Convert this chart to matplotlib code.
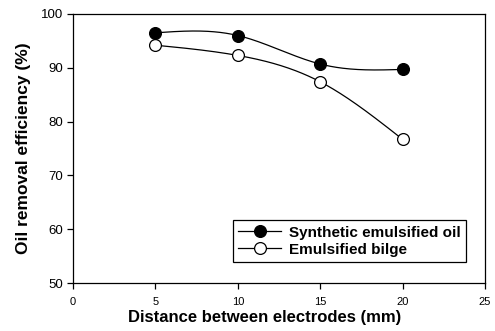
import numpy as np
import matplotlib
matplotlib.use('Agg')
import matplotlib.pyplot as plt

distance = [5, 10, 15, 20]
synthetic = [96.5, 96.0, 90.7, 89.7]
bilge = [94.2, 92.3, 87.4, 76.7]
x_ticks = [0, 5, 10, 15, 20, 25]
y_ticks = [50, 60, 70, 80, 90, 100]


def natural_spline(x, y, n=200):
    # natural cubic spline through the points, for a smooth line only
    x = np.asarray(x, float)
    y = np.asarray(y, float)
    k = len(x)
    h = np.diff(x)
    A = np.zeros((k, k))
    b = np.zeros(k)
    A[0, 0] = A[-1, -1] = 1
    for i in range(1, k - 1):
        A[i, i - 1] = h[i - 1]
        A[i, i] = 2 * (h[i - 1] + h[i])
        A[i, i + 1] = h[i]
        b[i] = 6 * ((y[i + 1] - y[i]) / h[i] - (y[i] - y[i - 1]) / h[i - 1])
    m = np.linalg.solve(A, b)
    xs = np.linspace(x[0], x[-1], n)
    idx = np.clip(np.searchsorted(x, xs) - 1, 0, k - 2)
    t0 = xs - x[idx]
    t1 = x[idx + 1] - xs
    hi = h[idx]
    ys = (m[idx] * t1 ** 3 + m[idx + 1] * t0 ** 3) / (6 * hi) \
        + (y[idx] / hi - m[idx] * hi / 6) * t1 \
        + (y[idx + 1] / hi - m[idx + 1] * hi / 6) * t0
    return xs, ys


plt.rcParams['font.family'] = ['Liberation Sans', 'DejaVu Sans']

fig = plt.figure(figsize=(4.95, 3.31), dpi=100)
ax = fig.add_axes([73 / 495., 1 - 283 / 331., 412 / 495., 269 / 331.])

for vals, face, label in [(synthetic, 'black', 'Synthetic emulsified oil'),
                          (bilge, 'white', 'Emulsified bilge')]:
    xs, ys = natural_spline(distance, vals)
    ax.plot(xs, ys, color='black', lw=0.9, zorder=2)
    ax.plot(distance, vals, 'o', ms=8.5, mfc=face, mec='black', mew=0.9, zorder=3)
    ax.plot([], [], '-o', color='black', lw=0.9, ms=8.5, mfc=face, mec='black',
            mew=0.9, label=label)

ax.set_xlim(0, 25)
ax.set_ylim(50, 100)
ax.set_xticks(x_ticks)
ax.set_yticks(y_ticks)
ax.tick_params(direction='out', length=4, width=0.9)
ax.tick_params(axis='x', labelsize=8, pad=6)
ax.tick_params(axis='y', labelsize=9.5, pad=3)
for s in ax.spines.values():
    s.set_linewidth(0.9)

ax.set_xlabel('Distance between electrodes (mm)', fontsize=12, fontweight='bold')
ax.set_ylabel('Oil removal efficiency (%)', fontsize=12.5, fontweight='bold')
ax.xaxis.set_label_coords(0.465, -0.13)
ax.xaxis.label.set_va('center')
ax.yaxis.set_label_coords(-0.12, 0.5)
ax.yaxis.label.set_va('center')

leg = ax.legend(loc='lower right', bbox_to_anchor=(466 / 495., 1 - 262 / 331.),
                bbox_transform=fig.transFigure, fancybox=False, framealpha=1,
                edgecolor='black', prop={'weight': 'bold', 'size': 11},
                handlelength=2.8, borderpad=0.35, labelspacing=0.2, handletextpad=0.5,
                borderaxespad=0)
leg.get_frame().set_linewidth(0.9)

fig.savefig('out.png', dpi=100)
